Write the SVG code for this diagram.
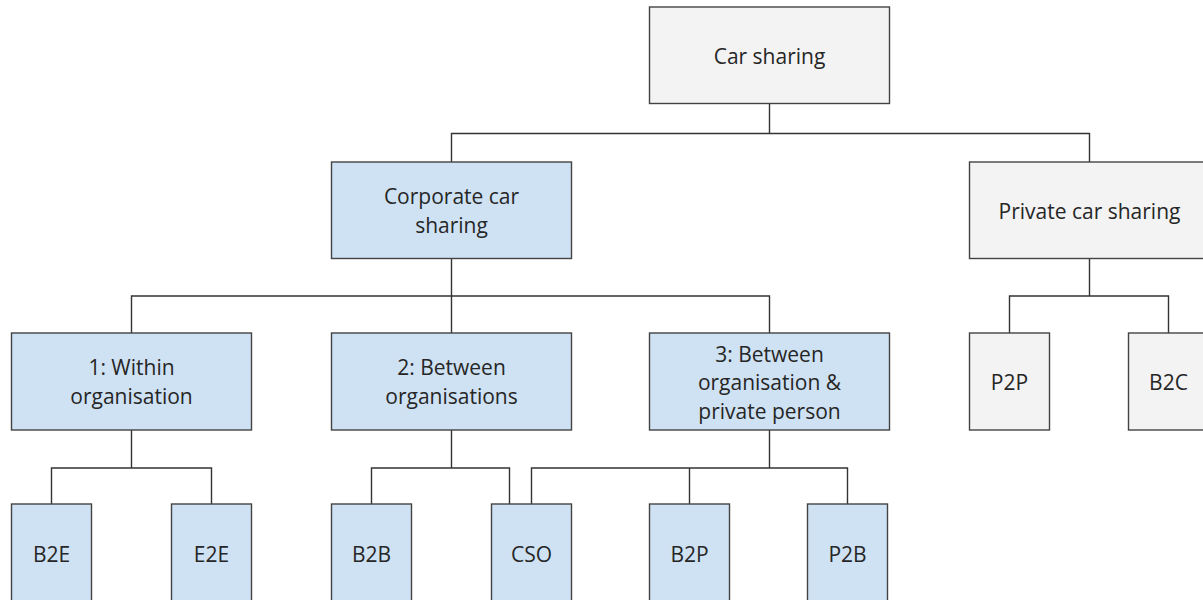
<svg xmlns="http://www.w3.org/2000/svg" width="1203" height="600" viewBox="0 0 1203 600">
<style>
.g{fill:#f3f3f3;stroke:#434343;stroke-width:1.4}
.b{fill:#cfe2f3;stroke:#434343;stroke-width:1.4}
text{font-family:"Open Sans","Noto Sans",sans-serif;font-size:21px;fill:#262626;text-anchor:middle}
#connectors path{fill:none;stroke:#333;stroke-width:1.4}
</style>
<rect width="1203" height="600" fill="#fff"/>
<g id="connectors">
<path d="M769.5 103.5V133.5M451.5 162V133.5H1089.5V162"/>
<path d="M451.5 258.5V296M131.5 333V296H769.5V333M451.5 296V333"/>
<path d="M1089.5 258.5V296M1009.5 333V296H1168.5V333"/>
<path d="M131.5 430V468M51.5 504V468H211.5V504"/>
<path d="M451.5 430V468M371.5 504V468H509.5V504"/>
<path d="M769.5 430V468M531.5 504V468H847.5V504M689.5 468V504"/>
</g>
<g id="car-sharing"><rect class="g" x="649.5" y="7" width="240" height="96.5"/><text x="769.5" y="64">Car sharing</text></g>
<g id="corporate"><rect class="b" x="331.5" y="162" width="240" height="96.5"/><text x="451.5" y="204">Corporate car</text><text x="451.5" y="232.5">sharing</text></g>
<g id="private"><rect class="g" x="969.5" y="162" width="240" height="96.5"/><text x="1089.5" y="219">Private car sharing</text></g>
<g id="within"><rect class="b" x="11.5" y="333" width="240" height="97"/><text x="131.5" y="375">1: Within</text><text x="131.5" y="404">organisation</text></g>
<g id="between"><rect class="b" x="331.5" y="333" width="240" height="97"/><text x="451.5" y="375">2: Between</text><text x="451.5" y="404">organisations</text></g>
<g id="org-private"><rect class="b" x="649.5" y="333" width="240" height="97"/><text x="769.5" y="361.5">3: Between</text><text x="769.5" y="390">organisation &amp;</text><text x="769.5" y="418.5">private person</text></g>
<g id="p2p"><rect class="g" x="969.5" y="333" width="80" height="97"/><text x="1009.5" y="390">P2P</text></g>
<g id="b2c"><rect class="g" x="1128.5" y="333" width="80" height="97"/><text x="1168.5" y="390">B2C</text></g>
<g id="b2e"><rect class="b" x="11.5" y="504" width="80" height="97"/><text x="51.5" y="562">B2E</text></g>
<g id="e2e"><rect class="b" x="171.5" y="504" width="80" height="97"/><text x="211.5" y="562">E2E</text></g>
<g id="b2b"><rect class="b" x="331.5" y="504" width="80" height="97"/><text x="371.5" y="562">B2B</text></g>
<g id="cso"><rect class="b" x="491.5" y="504" width="80" height="97"/><text x="531.5" y="562">CSO</text></g>
<g id="b2p"><rect class="b" x="649.5" y="504" width="80" height="97"/><text x="689.5" y="562">B2P</text></g>
<g id="p2b"><rect class="b" x="807.5" y="504" width="80" height="97"/><text x="847.5" y="562">P2B</text></g>
</svg>
